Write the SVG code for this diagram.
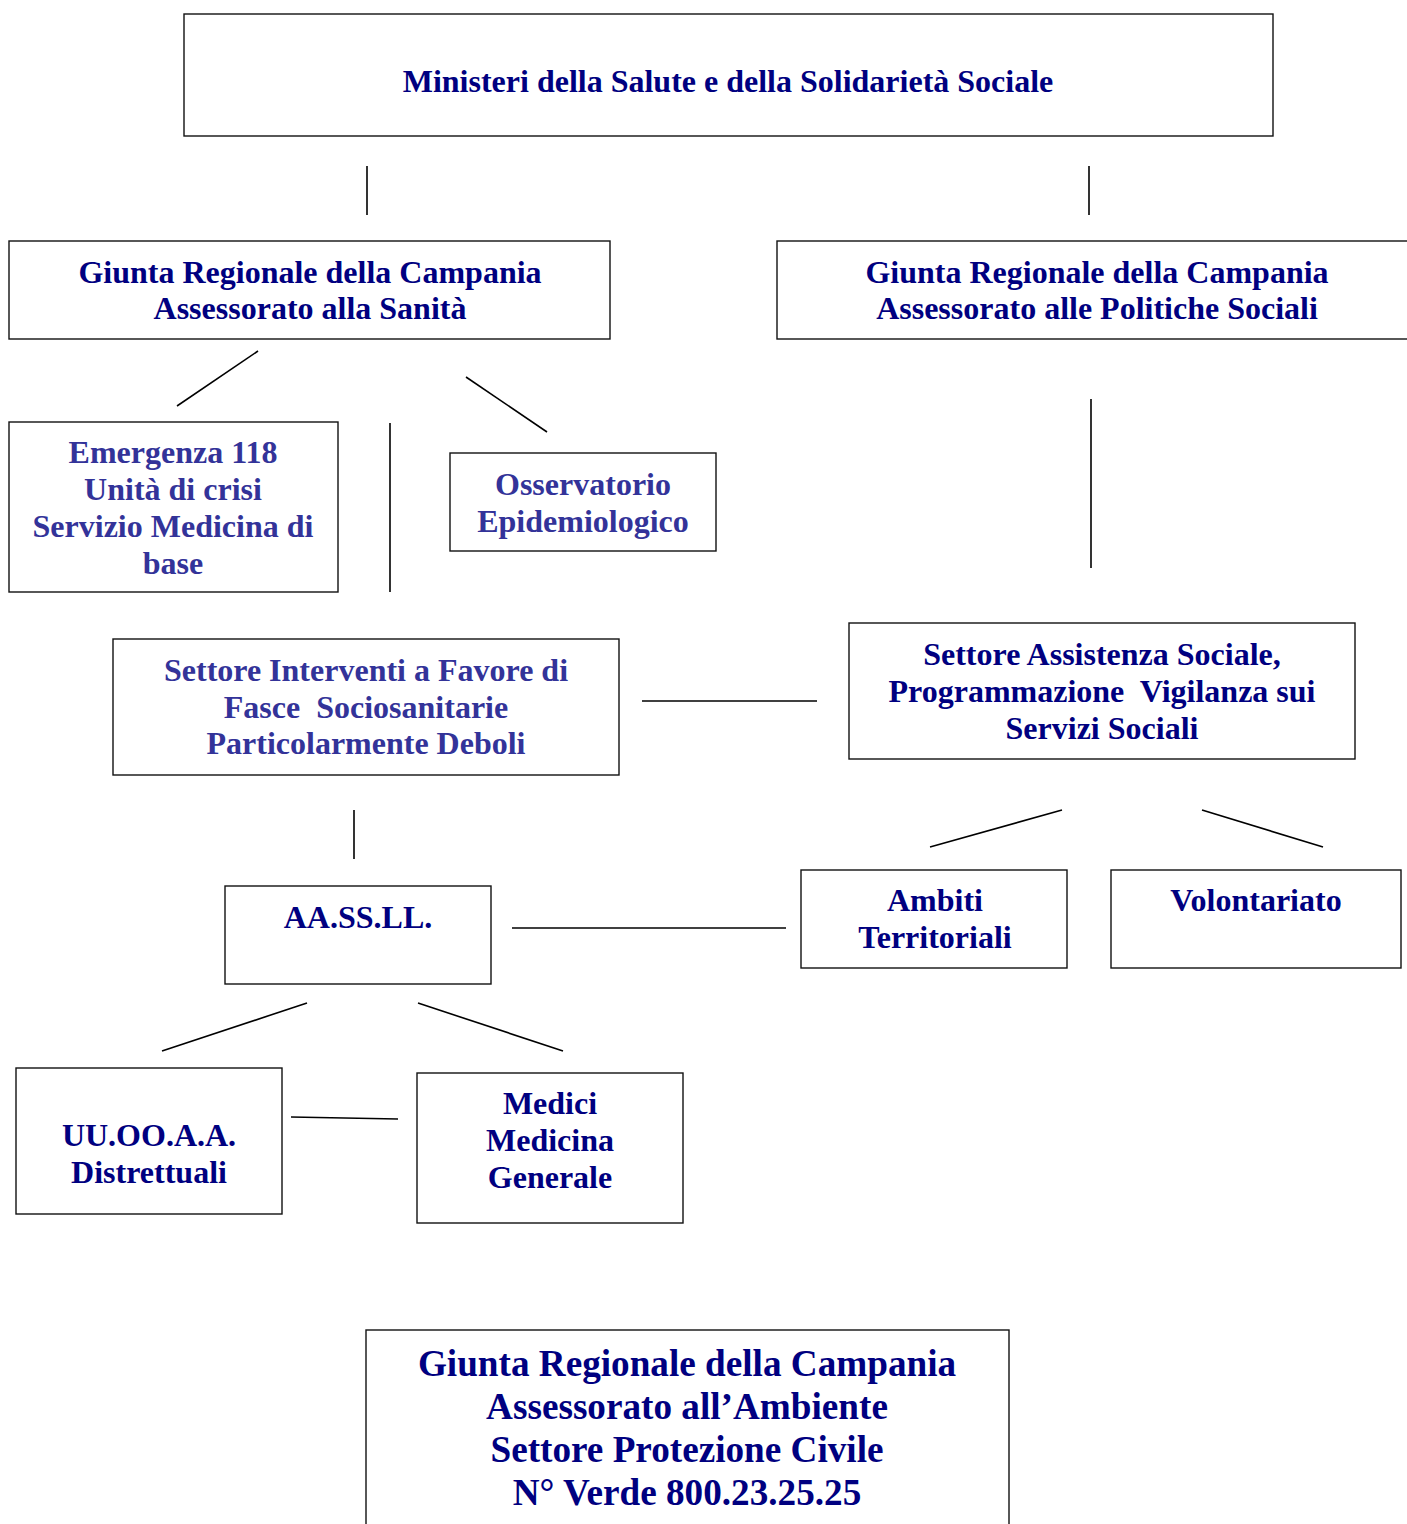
<svg xmlns="http://www.w3.org/2000/svg" width="1407" height="1524" viewBox="0 0 1407 1524">
<style>
rect.box { fill: #ffffff; stroke: #111111; stroke-width: 1.4; }
#connectors line { stroke: #000000; stroke-width: 1.6; }
text { font-family: "Liberation Serif", "Times New Roman", serif; font-weight: bold; font-size: 32px; text-anchor: middle; fill: #000080; }
text.light { fill: #333399; }
text.big { font-size: 37.2px; }
</style>
<rect x="0" y="0" width="1407" height="1524" fill="#ffffff"/>
<g id="connectors">
  <line x1="367" y1="166" x2="367" y2="215"/>
  <line x1="1089" y1="166" x2="1089" y2="215"/>
  <line x1="258" y1="351" x2="177" y2="406"/>
  <line x1="466" y1="377" x2="547" y2="432"/>
  <line x1="390" y1="423" x2="390" y2="592"/>
  <line x1="1091" y1="399" x2="1091" y2="568"/>
  <line x1="642" y1="701" x2="817" y2="701"/>
  <line x1="354" y1="810" x2="354" y2="859"/>
  <line x1="1062" y1="810" x2="930" y2="847"/>
  <line x1="1202" y1="810" x2="1323" y2="847"/>
  <line x1="512" y1="928" x2="786" y2="928"/>
  <line x1="307" y1="1003" x2="162" y2="1051"/>
  <line x1="418" y1="1003" x2="563" y2="1051"/>
  <line x1="291" y1="1117" x2="398" y2="1119"/>
</g>
<g id="ministeri">
  <rect class="box" x="184" y="14" width="1089" height="122"/>
  <text x="728" y="92">Ministeri della Salute e della Solidarietà Sociale</text>
</g>
<g id="giunta-sanita">
  <rect class="box" x="9" y="241" width="601" height="98"/>
  <text x="310" y="283">Giunta Regionale della Campania</text>
  <text x="310" y="319">Assessorato alla Sanità</text>
</g>
<g id="giunta-politiche">
  <rect class="box" x="777" y="241" width="640" height="98"/>
  <text x="1097" y="283">Giunta Regionale della Campania</text>
  <text x="1097" y="319">Assessorato alle Politiche Sociali</text>
</g>
<g id="emergenza">
  <rect class="box" x="9" y="422" width="329" height="170"/>
  <text class="light" x="173" y="463">Emergenza 118</text>
  <text class="light" x="173" y="500">Unità di crisi</text>
  <text class="light" x="173" y="537">Servizio Medicina di</text>
  <text class="light" x="173" y="574">base</text>
</g>
<g id="osservatorio">
  <rect class="box" x="450" y="453" width="266" height="98"/>
  <text class="light" x="583" y="495">Osservatorio</text>
  <text class="light" x="583" y="532">Epidemiologico</text>
</g>
<g id="settore-interventi">
  <rect class="box" x="113" y="639" width="506" height="136"/>
  <text class="light" x="366" y="681">Settore Interventi a Favore di</text>
  <text class="light" x="366" y="718" xml:space="preserve">Fasce  Sociosanitarie</text>
  <text class="light" x="366" y="754">Particolarmente Deboli</text>
</g>
<g id="settore-assistenza">
  <rect class="box" x="849" y="623" width="506" height="136"/>
  <text x="1102" y="665">Settore Assistenza Sociale,</text>
  <text x="1102" y="702" xml:space="preserve">Programmazione  Vigilanza sui</text>
  <text x="1102" y="739">Servizi Sociali</text>
</g>
<g id="asl">
  <rect class="box" x="225" y="886" width="266" height="98"/>
  <text x="358" y="928">AA.SS.LL.</text>
</g>
<g id="ambiti">
  <rect class="box" x="801" y="870" width="266" height="98"/>
  <text x="935" y="911">Ambiti</text>
  <text x="935" y="948">Territoriali</text>
</g>
<g id="volontariato">
  <rect class="box" x="1111" y="870" width="290" height="98"/>
  <text x="1256" y="911">Volontariato</text>
</g>
<g id="uuooaa">
  <rect class="box" x="16" y="1068" width="266" height="146"/>
  <text x="149" y="1146">UU.OO.A.A.</text>
  <text x="149" y="1183">Distrettuali</text>
</g>
<g id="medici">
  <rect class="box" x="417" y="1073" width="266" height="150"/>
  <text x="550" y="1114">Medici</text>
  <text x="550" y="1151">Medicina</text>
  <text x="550" y="1188">Generale</text>
</g>
<g id="protezione-civile">
  <rect class="box" x="366" y="1330" width="643" height="210"/>
  <text class="big" x="687" y="1376">Giunta Regionale della Campania</text>
  <text class="big" x="687" y="1419">Assessorato all’Ambiente</text>
  <text class="big" x="687" y="1462">Settore Protezione Civile</text>
  <text class="big" x="687" y="1505">N° Verde 800.23.25.25</text>
</g>
</svg>
